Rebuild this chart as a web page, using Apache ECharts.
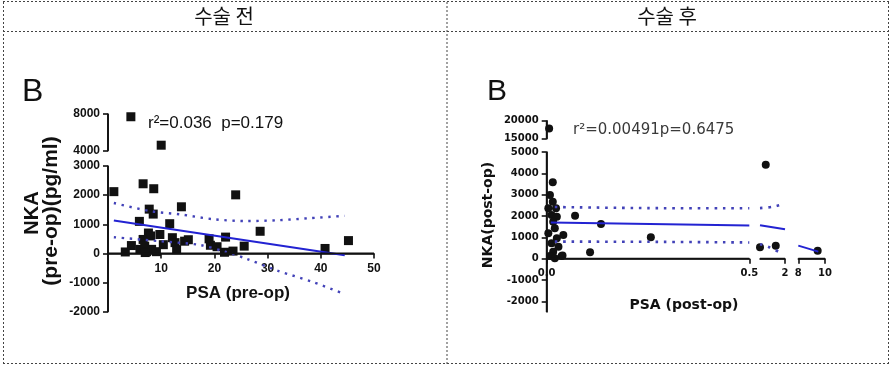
<!DOCTYPE html>
<html>
<head>
<meta charset="utf-8">
<script src="https://cdn.jsdelivr.net/npm/echarts@6/dist/echarts.min.js"></script>
<style>
  html, body { margin: 0; background: #fff; }
  #chart { width: 890px; height: 365px; }
</style>
</head>
<body>
<div id="chart"></div>
<script>
// ---- pre-op panel (squares), [PSA, NKA]
const preOpPoints = [
  [1.1, 2120], [4.3, 7700], [10.0, 4600], [6.6, 2390], [8.6, 2220], [24.0, 2010],
  [13.8, 1600], [7.75, 1520], [8.5, 1350], [5.9, 1100], [11.6, 1020], [28.6, 760],
  [9.75, 650], [7.6, 700], [6.6, 480], [12.1, 540], [12.6, 370], [12.9, 130],
  [14.4, 420], [15.1, 470], [19.0, 500], [19.25, 280], [20.5, 230], [22.1, 560],
  [21.9, 40], [23.5, 80], [25.6, 250], [40.8, 170], [45.2, 440], [3.25, 50],
  [4.4, 270], [6.0, 140], [6.9, 250], [7.25, 60], [8.2, 140], [9.1, 60],
  [10.4, 300], [8.0, 600], [7.0, 30]
];
const preOpFit = [[1.1, 1130], [44.5, -60]];
const preOpUpper = [[1.1, 1730], [8, 1450], [13.5, 1340], [20, 1170], [26, 1110], [32, 1140], [38, 1210], [44.5, 1290]];
const preOpLower = [[1.1, 556], [9.75, 420], [17.25, 290], [22, 60], [26, -180], [32, -600], [38.5, -980], [44.5, -1400]];
const preOpX = [0, 50];
const preOpYLow = [-2000, 3000];
const preOpYHigh = [4000, 8000];

// ---- post-op panel (circles), broken x axis
const postOpPoints = [
  [0.006, 17800],
  [0.015, 3580], [0.008, 2985], [0.015, 2670], [0.023, 2360], [0.004, 2360], [0.012, 2050],
  [0.025, 1970], [0.016, 1735], [0.02, 1425], [0.004, 1190], [0.041, 1110], [0.025, 955],
  [0.012, 720], [0.029, 563], [0.016, 330], [0.037, 126], [0.008, 126], [0.02, 20],
  [0.07, 2015], [0.134, 1627], [0.107, 300], [0.257, 1000], [0.039, 150],
  [1.23, 4400], [1.0, 534], [1.63, 610],
  [9.45, 375]
];
const postOpFit = [[0.01, 1690], [0.5, 1560], [1.0, 1570], [2.0, 1380], [8.0, 610], [9.5, 330]];
const postOpUpper = [[0.02, 2420], [0.25, 2370], [0.5, 2360], [1.0, 2370], [1.5, 2430], [1.93, 2550]];
const postOpLower = [[0.02, 800], [0.25, 790], [0.5, 760], [1.0, 680], [1.33, 560], [1.87, 250]];
const postOpXSegments = [[0, 0.5], [1, 2], [8, 10]];
const postOpYLow = [-2500, 5000];
const postOpYLowTicks = [-2000, -1000, 0, 1000, 2000, 3000, 4000, 5000];
const postOpYHigh = [15000, 20000];

const inside = (v, r) => v >= r[0] && v <= r[1];
const pick = (pts, xr, yr) => pts.filter(p => inside(p[0], xr) && inside(p[1], yr));

const INK = '#111';
const FIT = '#2323d2';
const BAND = '#4242b8';
const leftFont = '"Liberation Sans", Arial, sans-serif';
const rightFont = '"DejaVu Sans", sans-serif';

const axisLine = () => ({ show: true, onZero: false, lineStyle: { color: INK, width: 1.6 } });
const axisTick = () => ({ show: true, lineStyle: { color: INK, width: 1.6 }, length: 5 });
const plain = v => String(v);

// grids: lower/upper part of each broken y axis, and three x pieces on the right
const grid = [
  { left: 108, top: 166, width: 266, height: 145.7 },     // pre-op lower
  { left: 108, top: 114, width: 266, height: 36.7 },      // pre-op upper
  { left: 546.7, top: 152, width: 202.6, height: 160 },   // post-op seg 1
  { left: 760, top: 152, width: 25, height: 160 },        // post-op seg 2
  { left: 798.3, top: 152, width: 26.7, height: 160 },    // post-op seg 3
  { left: 546.7, top: 120.7, width: 202.6, height: 18 }   // post-op upper
];
// x axes sit on y = 0, lifted from the grid bottom
const preOpZeroLift = -145.7 * (0 - preOpYLow[0]) / (preOpYLow[1] - preOpYLow[0]);
const postOpZeroLift = -160 * (0 - postOpYLow[0]) / (postOpYLow[1] - postOpYLow[0]);

const leftLabel = () => ({ color: INK, fontFamily: leftFont, fontWeight: 'bold', fontSize: 12, formatter: plain });
const rightLabel = () => ({ color: INK, fontFamily: rightFont, fontWeight: 'bold', fontSize: 10, formatter: plain });

const xAxis = [
  { gridIndex: 0, type: 'value', min: preOpX[0], max: preOpX[1], interval: 10, offset: preOpZeroLift,
    axisLine: axisLine(), axisTick: axisTick(), splitLine: { show: false },
    axisLabel: { ...leftLabel(), margin: 9, showMinLabel: false } },
  { gridIndex: 1, type: 'value', min: preOpX[0], max: preOpX[1], show: false },
  { gridIndex: 2, type: 'value', min: 0, max: 0.5, interval: 0.5, offset: postOpZeroLift,
    axisLine: axisLine(), axisTick: axisTick(), splitLine: { show: false },
    axisLabel: { ...rightLabel(), margin: 10, formatter: v => v.toFixed(1) } },
  { gridIndex: 3, type: 'value', min: 1, max: 2, interval: 1, offset: postOpZeroLift,
    axisLine: axisLine(), axisTick: axisTick(), splitLine: { show: false },
    axisLabel: { ...rightLabel(), margin: 10, showMinLabel: false } },
  { gridIndex: 4, type: 'value', min: 8, max: 10, interval: 2, offset: postOpZeroLift,
    axisLine: axisLine(), axisTick: axisTick(), splitLine: { show: false },
    axisLabel: { ...rightLabel(), margin: 10 } },
  { gridIndex: 5, type: 'value', min: 0, max: 0.5, show: false }
];

const yAxis = [
  { gridIndex: 0, type: 'value', min: preOpYLow[0], max: preOpYLow[1], interval: 1000,
    axisLine: axisLine(), axisTick: axisTick(), splitLine: { show: false },
    axisLabel: { ...leftLabel(), margin: 8 } },
  { gridIndex: 1, type: 'value', min: preOpYHigh[0], max: preOpYHigh[1], interval: 4000,
    axisLine: axisLine(), axisTick: axisTick(), splitLine: { show: false },
    axisLabel: { ...leftLabel(), margin: 8 } },
  { gridIndex: 2, type: 'value', min: postOpYLow[0], max: postOpYLow[1],
    axisLine: axisLine(), splitLine: { show: false },
    axisTick: { ...axisTick(), customValues: postOpYLowTicks },
    axisLabel: { ...rightLabel(), margin: 8, customValues: postOpYLowTicks } },
  { gridIndex: 3, type: 'value', min: postOpYLow[0], max: postOpYLow[1], show: false },
  { gridIndex: 4, type: 'value', min: postOpYLow[0], max: postOpYLow[1], show: false },
  { gridIndex: 5, type: 'value', min: postOpYHigh[0], max: postOpYHigh[1], interval: 5000,
    axisLine: axisLine(), axisTick: axisTick(), splitLine: { show: false },
    axisLabel: { ...rightLabel(), margin: 8 } }
];

const dots = (color, w, gap) => ({ color, width: w, type: [w, gap], cap: 'butt' });
const lineSeries = (data, xi, yi, style) => ({
  type: 'line', data, xAxisIndex: xi, yAxisIndex: yi, showSymbol: false, symbol: 'none',
  smooth: data.length > 2 ? 0.3 : false, lineStyle: style, silent: true, z: 3
});
// axis rule along x = 0 or y = 0, spanning the axis range
const ruleSeries = (data, gi) => ({
  type: 'line', data, xAxisIndex: gi, yAxisIndex: gi, showSymbol: false, symbol: 'none',
  clip: false, silent: true, z: 4, lineStyle: { color: INK, width: 1.8, type: 'solid' }
});
const scatterSeries = (data, xi, yi, symbol, size) => ({
  type: 'scatter', data, xAxisIndex: xi, yAxisIndex: yi, symbol, symbolSize: size,
  itemStyle: { color: INK, opacity: 1 }, silent: true, z: 2
});

const series = [
  scatterSeries(pick(preOpPoints, preOpX, preOpYLow), 0, 0, 'rect', 9),
  scatterSeries(pick(preOpPoints, preOpX, preOpYHigh), 1, 1, 'rect', 9),
  lineSeries(preOpFit, 0, 0, { color: FIT, width: 2 }),
  lineSeries(preOpUpper, 0, 0, dots(BAND, 2.4, 5.6)),
  lineSeries(preOpLower, 0, 0, dots(BAND, 2.4, 5.6)),
  ruleSeries([[0, preOpYLow[0]], [0, preOpYLow[1]]], 0),
  ruleSeries([[preOpX[0], 0], [preOpX[1], 0]], 0),
  ruleSeries([[0, preOpYHigh[0]], [0, preOpYHigh[1]]], 1)
];
postOpXSegments.forEach((xr, i) => {
  const gi = 2 + i;
  series.push(scatterSeries(pick(postOpPoints, xr, postOpYLow), gi, gi, 'circle', 8));
  const fit = pick(postOpFit, xr, postOpYLow);
  if (fit.length) series.push(lineSeries(fit, gi, gi, { color: FIT, width: 2 }));
  const up = pick(postOpUpper, xr, postOpYLow);
  if (up.length) series.push(lineSeries(up, gi, gi, dots(BAND, 2.6, 5.8)));
  const lo = pick(postOpLower, xr, postOpYLow);
  if (lo.length) series.push(lineSeries(lo, gi, gi, dots(BAND, 2.6, 5.8)));
  series.push(ruleSeries([[xr[0], 0], [xr[1], 0]], gi));
});
series.push(ruleSeries([[0, postOpYLow[0]], [0, postOpYLow[1]]], 2));
series.push(scatterSeries(pick(postOpPoints, [0, 0.5], postOpYHigh), 5, 5, 'circle', 8));
series.push(ruleSeries([[0, postOpYHigh[0]], [0, postOpYHigh[1]]], 5));

// table frame
const border = { stroke: '#444', lineWidth: 1, lineDash: [2, 2] };
const hline = (y) => ({ type: 'line', shape: { x1: 3, y1: y, x2: 889, y2: y }, style: border, silent: true });
const vline = (x) => ({ type: 'line', shape: { x1: x, y1: 2, x2: x, y2: 364 }, style: border, silent: true });
const txt = (x, y, text, font, extra) => ({
  type: 'text', x, y, silent: true,
  style: Object.assign({ text, font, fill: INK, align: 'center', verticalAlign: 'middle' }, extra || {})
});

const graphic = [
  hline(1.5), hline(31.5), hline(363.5),
  vline(3.5), vline(447), vline(888.5),
  txt(224, 16, '수술 전', '20px "Noto Sans CJK KR"'),
  txt(667, 16, '수술 후', '20px "Noto Sans CJK KR"'),
  // pre-op panel texts
  txt(22, 92, 'B', '32px ' + leftFont, { align: 'left' }),
  txt(148, 123, 'r²=0.036  p=0.179', '17px ' + leftFont, { align: 'left' }),
  txt(238, 293, 'PSA (pre-op)', 'bold 17px ' + leftFont),
  Object.assign(txt(32, 213, 'NKA', 'bold 20px ' + leftFont), { rotation: Math.PI / 2 }),
  Object.assign(txt(51, 211, '(pre-op)(pg/ml)', 'bold 21px ' + leftFont), { rotation: Math.PI / 2 }),
  // post-op panel texts
  txt(487, 92, 'B', '30px ' + leftFont, { align: 'left' }),
  txt(573, 130, 'r²=0.00491p=0.6475', '15px ' + rightFont, { align: 'left', fill: '#3a3a3a' }),
  txt(684, 305, 'PSA (post-op)', 'bold 14px ' + rightFont),
  Object.assign(txt(488, 215, 'NKA(post-op)', 'bold 14px ' + rightFont), { rotation: Math.PI / 2 })
];

const chart = echarts.init(document.getElementById('chart'), null, { renderer: 'canvas' });
chart.setOption({
  animation: false,
  backgroundColor: '#fff',
  grid, xAxis, yAxis, series, graphic
});
</script>
</body>
</html>
